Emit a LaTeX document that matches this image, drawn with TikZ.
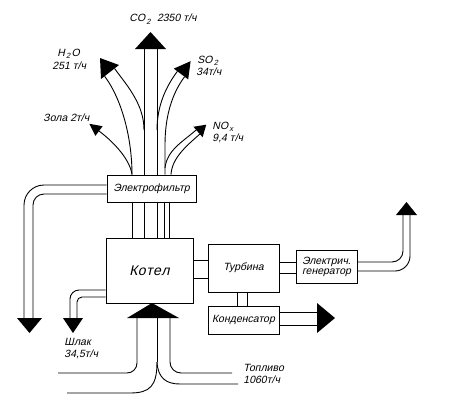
\documentclass[tikz,border=0pt]{standalone}
\usepackage{fontspec}
\newfontfamily\labfont[FakeSlant=0.22]{Liberation Sans}
\newcommand{\lowsub}[1]{\kern1.2pt\raisebox{-2.5pt}{\fontsize{7.5}{8}\selectfont #1}\kern1.2pt}
\begin{document}
\begin{tikzpicture}[x=1pt,y=-1pt,line width=0.9pt,
  box/.style={draw,line width=1pt,inner sep=0pt,font=\labfont\fontsize{10.5}{12}\selectfont},
  lab/.style={inner sep=0pt,anchor=west,font=\labfont\fontsize{10.5}{12}\selectfont},
  head/.style={fill=black}]
\fill[white] (0,0) rectangle (450,400);
\useasboundingbox (0,0) rectangle (450,400);

% boxes
\node[box,minimum width=89pt,minimum height=27pt] (filter) at (151.5,188.5) {Электрофильтр};
\node[box,minimum width=87pt,minimum height=65pt,font=\labfont\fontsize{14}{16}\selectfont] (kotel) at (149.5,270.5) {К\kern0.5pt о\kern0.5pt т\kern0.5pt е\kern0.5pt л};
\node[box,minimum width=71pt,minimum height=48pt] (turb) at (243.5,268) {Турбина};
\node[box,minimum width=61pt,minimum height=33pt,align=center] (gen) at (326.5,266.5) {Электрич.\\[-2pt]генератор};
\node[box,minimum width=71pt,minimum height=28pt] (cond) at (243.5,320) {Конденсатор};

% box to box connectors
\draw (kotel.east |- 0,260) -- (turb.west |- 0,260);
\draw (kotel.east |- 0,278) -- (turb.west |- 0,278);
\draw (turb.east |- 0,262) -- (gen.west |- 0,262);
\draw (turb.east |- 0,273) -- (gen.west |- 0,273);
\draw (turb.south -| 237,0) -- (cond.north -| 237,0);
\draw (turb.south -| 247,0) -- (cond.north -| 247,0);
\foreach \x in {132,144,157,164,169}
  \draw (filter.south -| \x,0) -- (kotel.north -| \x,0);

% CO2
\draw (filter.north -| 144,0) -- (144,49);
\draw (filter.north -| 157,0) -- (157,49);
\fill[head] (135,49) -- (166,49) -- (150.5,32) -- cycle;
% H2O
\draw (filter.north -| 132,0) .. controls (132,140) and (122.6,100.2) .. (104.6,76.2);
\draw (144,130) .. controls (144,105) and (128.3,86.9) .. (114.5,68.5);
\fill[head] (119,65) -- (101,79) -- (100,58) -- cycle;
% Zola
\draw (filter.north -| 132,0) .. controls (130,160) and (115,143) .. (99,131);
\fill[head] (102.6,126.2) -- (95.4,135.8) -- (89.4,123.8) -- cycle;
% SO2
\draw (157,130) .. controls (157,105) and (166.6,85.7) .. (177.4,71.3);
\draw (filter.north -| 165,0) -- (165,145) .. controls (165,115) and (172.6,92.7) .. (184.6,76.7);
\fill[head] (173.8,68.6) -- (188.2,79.4) -- (190.6,61.2) -- cycle;
% NOx
\draw (165,168) .. controls (167,150) and (182.7,141.8) .. (196.2,129.9);
\draw (filter.north -| 171,0) .. controls (172,158) and (186.3,146) .. (199.8,134.1);
\fill[head] (193.4,126.75) -- (202.6,137.25) -- (206.25,124.7) -- cycle;

% filter left output
\draw[rounded corners=20pt] (filter.west |- 0,185) -- (24,185) -- (24,318);
\draw[rounded corners=11pt] (filter.west |- 0,194) -- (33,194) -- (33,318);
\fill[head] (17,318) -- (42,318) -- (29.5,333) -- cycle;

% slag
\draw[rounded corners=9pt] (kotel.west |- 0,290) -- (70,290) -- (70,318);
\draw[rounded corners=5pt] (kotel.west |- 0,297) -- (77,297) -- (77,318);
\fill[head] (63,318) -- (83,318) -- (73,333) -- cycle;

% generator output
\draw[rounded corners=11pt] (gen.east |- 0,262) -- (403,262) -- (403,215);
\draw[rounded corners=15pt] (gen.east |- 0,271) -- (410,271) -- (410,215);
\fill[head] (396,215) -- (417,215) -- (406.5,202) -- cycle;

% condenser output
\draw (cond.east |- 0,312) -- (317,312);
\draw (cond.east |- 0,325) -- (317,325);
\fill[head] (317,303) -- (335,318) -- (317,333) -- cycle;

% fuel
\fill[head] (127,318) -- (179,318) -- (152,303) -- cycle;
\draw[rounded corners=10pt] (137,318) -- (137,373) -- (58,373);
\draw[rounded corners=11pt] (170,318) -- (170,373) -- (232,373);
\draw (157,318) -- (157,362);
\draw (157,362) .. controls (157,386) and (150,393) .. (130,393) -- (67,393);
\draw (157,362) .. controls (158,378) and (166,384) .. (180,384) -- (238,384);

% labels
\node[lab] (tco) at (129,19) {CO\lowsub{2}\enspace 2350 т/ч};
\node[lab] (th1) at (57,54) {H\lowsub{2}O};
\node[lab] (th2) at (52,66) {251 т/ч};
\node[lab] (ts1) at (197,61) {SO\lowsub{2}};
\node[lab] (ts2) at (196,72) {34т/ч};
\node[lab] (tz) at (43,118) {Зола 2т/ч};
\node[lab] (tn1) at (212,127) {NO\lowsub{x}};
\node[lab] (tn2) at (212,138) {9,4 т/ч};
\node[lab] (tsl1) at (64,342) {Шлак};
\node[lab] (tsl2) at (64,354) {34,5т/ч};
\node[lab] (tf1) at (243,368) {Топливо};
\node[lab] (tf2) at (243,380) {1060т/ч};
\end{tikzpicture}
\end{document}
